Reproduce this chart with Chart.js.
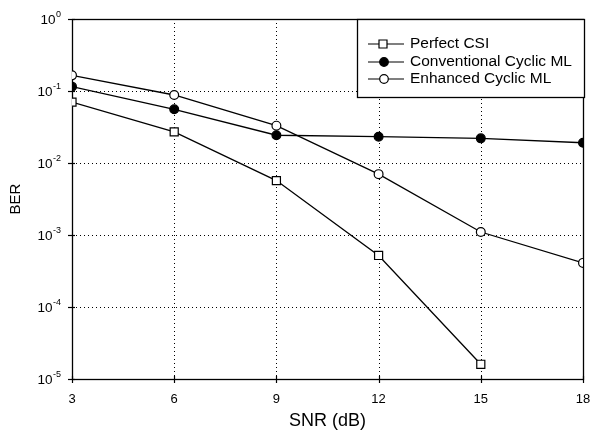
<!DOCTYPE html>
<html><head><meta charset="utf-8">
<script src="https://cdn.jsdelivr.net/npm/chart.js@4/dist/chart.umd.min.js"></script>
<style>html,body{margin:0;padding:0;background:#fff}#wrap{width:591px;height:437px}</style>
</head><body><div id="wrap"><canvas id="c" width="591" height="437"></canvas></div>
<script>
const snr = [3, 6, 9, 12, 15, 18];
const perfectCSI = [0.070, 0.027, 0.0057, 0.00052, 0.000016, null];
const conventionalML = [0.115, 0.0557, 0.0243, 0.0232, 0.022, 0.0191];
const enhancedML = [0.165, 0.088, 0.033, 0.0070, 0.0011, 0.00041];
const seriesNames = ['Perfect CSI', 'Conventional Cyclic ML', 'Enhanced Cyclic ML'];
const yTickValues = [1, 0.1, 0.01, 0.001, 0.0001, 0.00001];
const yTickExponents = ['0', '-1', '-2', '-3', '-4', '-5'];
const xTicks = [3, 6, 9, 12, 15, 18];

const FONT = '"Liberation Sans", Arial, sans-serif';
function pts(arr){ return snr.map((x,i)=>({x:x,y:arr[i]})).filter(p=>p.y!==null); }

const framePlugin = {
  id:'frame',
  beforeDatasetsDraw(chart){
    const {ctx, chartArea:a, scales:{x,y}} = chart;
    ctx.save();
    ctx.strokeStyle = '#000'; ctx.lineWidth = 1; ctx.setLineDash([1,3]);
    xTicks.forEach(v=>{ if(v===3||v===18) return; const px = Math.round(x.getPixelForValue(v))+0.5;
      ctx.beginPath(); ctx.moveTo(px, a.top); ctx.lineTo(px, a.bottom); ctx.stroke(); });
    yTickValues.forEach(v=>{ if(v===1||v===0.00001) return; const py = Math.round(y.getPixelForValue(v))+0.5;
      ctx.beginPath(); ctx.moveTo(a.left, py); ctx.lineTo(a.right, py); ctx.stroke(); });
    ctx.setLineDash([]);
    ctx.lineWidth = 1.3;
    ctx.strokeRect(Math.round(a.left)+0.5, Math.round(a.top)+0.5, Math.round(a.right-a.left), Math.round(a.bottom-a.top));
    ctx.lineWidth = 1.2;
    xTicks.forEach(v=>{ const px = Math.round(x.getPixelForValue(v))+0.5;
      ctx.beginPath(); ctx.moveTo(px, a.bottom-3); ctx.lineTo(px, a.bottom+4); ctx.stroke(); });
    yTickValues.forEach((v,i)=>{ const py = Math.round(y.getPixelForValue(v))+0.5;
      ctx.beginPath(); ctx.moveTo(a.left-4, py); ctx.lineTo(a.left+3, py); ctx.stroke();
      ctx.fillStyle = '#000'; ctx.textBaseline = 'middle';
      ctx.font = '9px ' + FONT; ctx.textAlign = 'right';
      const exp = yTickExponents[i];
      const ew = ctx.measureText(exp).width;
      ctx.fillText(exp, a.left - 11, py - 5);
      ctx.font = '13.5px ' + FONT;
      ctx.fillText('10', a.left - 11 - ew - 0.5, py + 0.5);
    });
    ctx.restore();
  }
};

const legendPlugin = {
  id: 'boxLegend',
  afterDraw(chart){
    const ctx = chart.ctx;
    const x0 = 357, y0 = 19, x1 = 584, y1 = 97;
    ctx.save();
    ctx.fillStyle = '#fff';
    ctx.fillRect(x0, y0, x1-x0, y1-y0);
    ctx.strokeStyle = '#000'; ctx.lineWidth = 1.3;
    ctx.strokeRect(x0+0.5, y0+0.5, x1-x0, y1-y0);
    const rows = [44, 62, 79];
    chart.data.datasets.forEach((ds, i) => {
      const y = rows[i];
      ctx.beginPath(); ctx.moveTo(368, y); ctx.lineTo(404, y);
      ctx.strokeStyle = '#000'; ctx.lineWidth = 1.2; ctx.stroke();
      ctx.fillStyle = ds.pointBackgroundColor;
      ctx.beginPath();
      if (ds.pointStyle === 'rect') { ctx.rect(379, y-4, 8, 8); }
      else { ctx.arc(384, y, 4.3, 0, Math.PI*2); }
      ctx.fill(); ctx.stroke();
      ctx.fillStyle = '#000';
      ctx.font = '15.5px ' + FONT;
      ctx.textBaseline = 'middle'; ctx.textAlign = 'left';
      ctx.fillText(ds.label, 410, y);
    });
    ctx.restore();
  }
};

new Chart(document.getElementById('c'), {
  type: 'line',
  data: {
    datasets: [
      { label: seriesNames[0], data: pts(perfectCSI), borderColor:'#000', borderWidth:1.3,
        pointStyle:'rect', pointRadius:5.7, pointBackgroundColor:'#fff', pointBorderColor:'#000', pointBorderWidth:1.2 },
      { label: seriesNames[1], data: pts(conventionalML), borderColor:'#000', borderWidth:1.3,
        pointStyle:'circle', pointRadius:4.4, pointBackgroundColor:'#000', pointBorderColor:'#000', pointBorderWidth:1.2 },
      { label: seriesNames[2], data: pts(enhancedML), borderColor:'#000', borderWidth:1.3,
        pointStyle:'circle', pointRadius:4.4, pointBackgroundColor:'#fff', pointBorderColor:'#000', pointBorderWidth:1.2 }
    ]
  },
  options: {
    responsive:false, animation:false,
    layout:{ padding:{ left:7, top:19, right:8, bottom:5 } },
    plugins:{ legend:{display:false}, tooltip:{enabled:false} },
    elements:{ line:{ tension:0 } },
    scales:{
      x:{ type:'linear', min:3, max:18,
        afterBuildTicks(s){ s.ticks = xTicks.map(v=>({value:v})); },
        afterFit(s){ s.height = 53; s.paddingLeft = 0; s.paddingRight = 0; },
        ticks:{ color:'#000', font:{family:FONT, size:13}, padding:5, callback:v=>String(v), maxRotation:0 },
        grid:{ display:false },
        border:{ display:false },
        title:{ display:true, text:'SNR (dB)', color:'#000', font:{family:FONT, size:18}, padding:{top:4,bottom:0} }
      },
      y:{ type:'logarithmic', min:0.00001, max:1,
        afterBuildTicks(s){ s.ticks = yTickValues.map(v=>({value:v, major:true})); },
        afterFit(s){ s.width = 65; s.paddingTop = 0; s.paddingBottom = 0; },
        ticks:{ display:false },
        grid:{ display:false },
        border:{ display:false },
        title:{ display:true, text:'BER', color:'#000', font:{family:FONT, size:15}, padding:{top:0,bottom:4} }
      }
    }
  },
  plugins:[framePlugin, legendPlugin]
});
</script>
</body></html>
